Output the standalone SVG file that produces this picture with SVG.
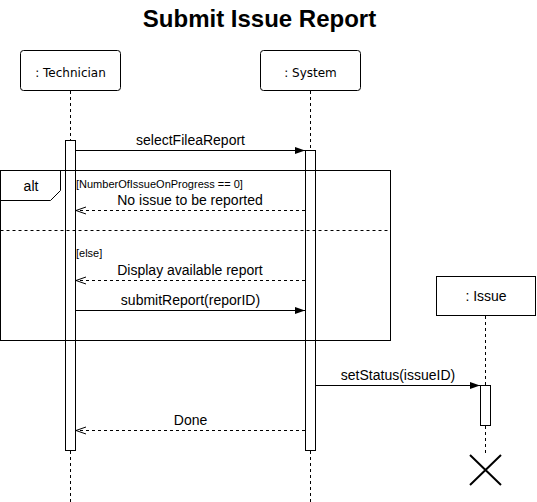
<svg xmlns="http://www.w3.org/2000/svg" width="537" height="502" viewBox="0 0 537 502">
<style>
  .lbl{font-family:"Liberation Sans",Arial,sans-serif;font-size:14px;fill:#000;text-anchor:middle}
  .guard{font-family:"Liberation Sans",Arial,sans-serif;font-size:11px;fill:#000}
  .part{font-family:"DejaVu Sans",Tahoma,sans-serif;font-size:12px;fill:#000;text-anchor:middle}
  .life{stroke:#000;stroke-width:1;stroke-dasharray:3 3;fill:none}
  .box{fill:#fff;stroke:#000;stroke-width:1}
  .bar{fill:#fff;stroke:#000;stroke-width:1}
  .msg{stroke:#000;stroke-width:1;fill:none}
  .ret{stroke:#000;stroke-width:1;fill:none;stroke-dasharray:3 3}
</style>
<defs>
  <marker id="solid" markerUnits="userSpaceOnUse" markerWidth="10" markerHeight="8" refX="10" refY="4" orient="auto">
    <path d="M0,0.5 L10,4 L0,7.5 z" fill="#000" stroke="none"/>
  </marker>
  <marker id="open" markerUnits="userSpaceOnUse" markerWidth="12" markerHeight="10" refX="10.5" refY="5" orient="auto">
    <path d="M0.5,1.5 L10.5,5 L0.5,8.5" fill="none" stroke="#000" stroke-width="1"/>
  </marker>
</defs>

<text x="259.5" y="27" style="font-family:'Liberation Sans',Arial,sans-serif;font-size:24px;font-weight:bold;text-anchor:middle;fill:#000">Submit Issue Report</text>

<g id="technician">
  <rect class="box" x="20.5" y="50.5" width="100" height="40" rx="3"/>
  <text class="part" x="70.5" y="77">: Technician</text>
  <line class="life" x1="70.5" y1="91" x2="70.5" y2="140"/>
  <line class="life" x1="70.5" y1="451" x2="70.5" y2="502"/>
  <rect class="bar" x="65.5" y="140.5" width="10" height="310"/>
</g>

<g id="system">
  <rect class="box" x="260.5" y="50.5" width="100" height="40" rx="3"/>
  <text class="part" x="310.5" y="77">: System</text>
  <line class="life" x1="310.5" y1="91" x2="310.5" y2="150"/>
  <line class="life" x1="310.5" y1="451" x2="310.5" y2="502"/>
  <rect class="bar" x="305.5" y="150.5" width="10" height="300"/>
</g>

<g id="issue">
  <rect class="box" x="436.5" y="276.5" width="99" height="39"/>
  <text class="lbl" x="486" y="301">: Issue</text>
  <line class="life" x1="485.5" y1="316" x2="485.5" y2="385"/>
  <line class="life" x1="485.5" y1="426" x2="485.5" y2="456"/>
  <rect class="bar" x="480.5" y="385.5" width="10" height="40"/>
  <path d="M470,455 L501,485 M501,455 L470,485" stroke="#000" stroke-width="2" fill="none"/>
</g>

<g id="alt-frame">
  <rect x="0.5" y="170.5" width="390" height="170" fill="none" stroke="#000" stroke-width="1"/>
  <path d="M0.5,200.5 L50.5,200.5 L60.5,190.5 L60.5,170.5" fill="none" stroke="#000" stroke-width="1"/>
  <text class="lbl" x="31" y="191">alt</text>
  <line x1="0.5" y1="230.5" x2="390.5" y2="230.5" stroke="#000" stroke-width="1" stroke-dasharray="3 3"/>
  <text class="guard" x="76" y="187.5">[NumberOfIssueOnProgress == 0]</text>
  <text class="guard" x="76" y="257">[else]</text>
</g>

<g id="connectors">
  <line class="msg" x1="76" y1="150.5" x2="305" y2="150.5" marker-end="url(#solid)"/>
  <text class="lbl" x="190.5" y="145">selectFileaReport</text>

  <line class="ret" x1="305" y1="210.5" x2="76" y2="210.5" marker-end="url(#open)"/>
  <text class="lbl" x="190" y="205">No issue to be reported</text>

  <line class="ret" x1="305" y1="280.5" x2="76" y2="280.5" marker-end="url(#open)"/>
  <text class="lbl" x="190" y="275">Display available report</text>

  <line class="msg" x1="76" y1="310.5" x2="305" y2="310.5" marker-end="url(#solid)"/>
  <text class="lbl" x="190.5" y="305">submitReport(reporID)</text>

  <line class="msg" x1="316" y1="385.5" x2="480" y2="385.5" marker-end="url(#solid)"/>
  <text class="lbl" x="398" y="380">setStatus(issueID)</text>

  <line class="ret" x1="305" y1="430.5" x2="76" y2="430.5" marker-end="url(#open)"/>
  <text class="lbl" x="190.5" y="425">Done</text>
</g>
</svg>
